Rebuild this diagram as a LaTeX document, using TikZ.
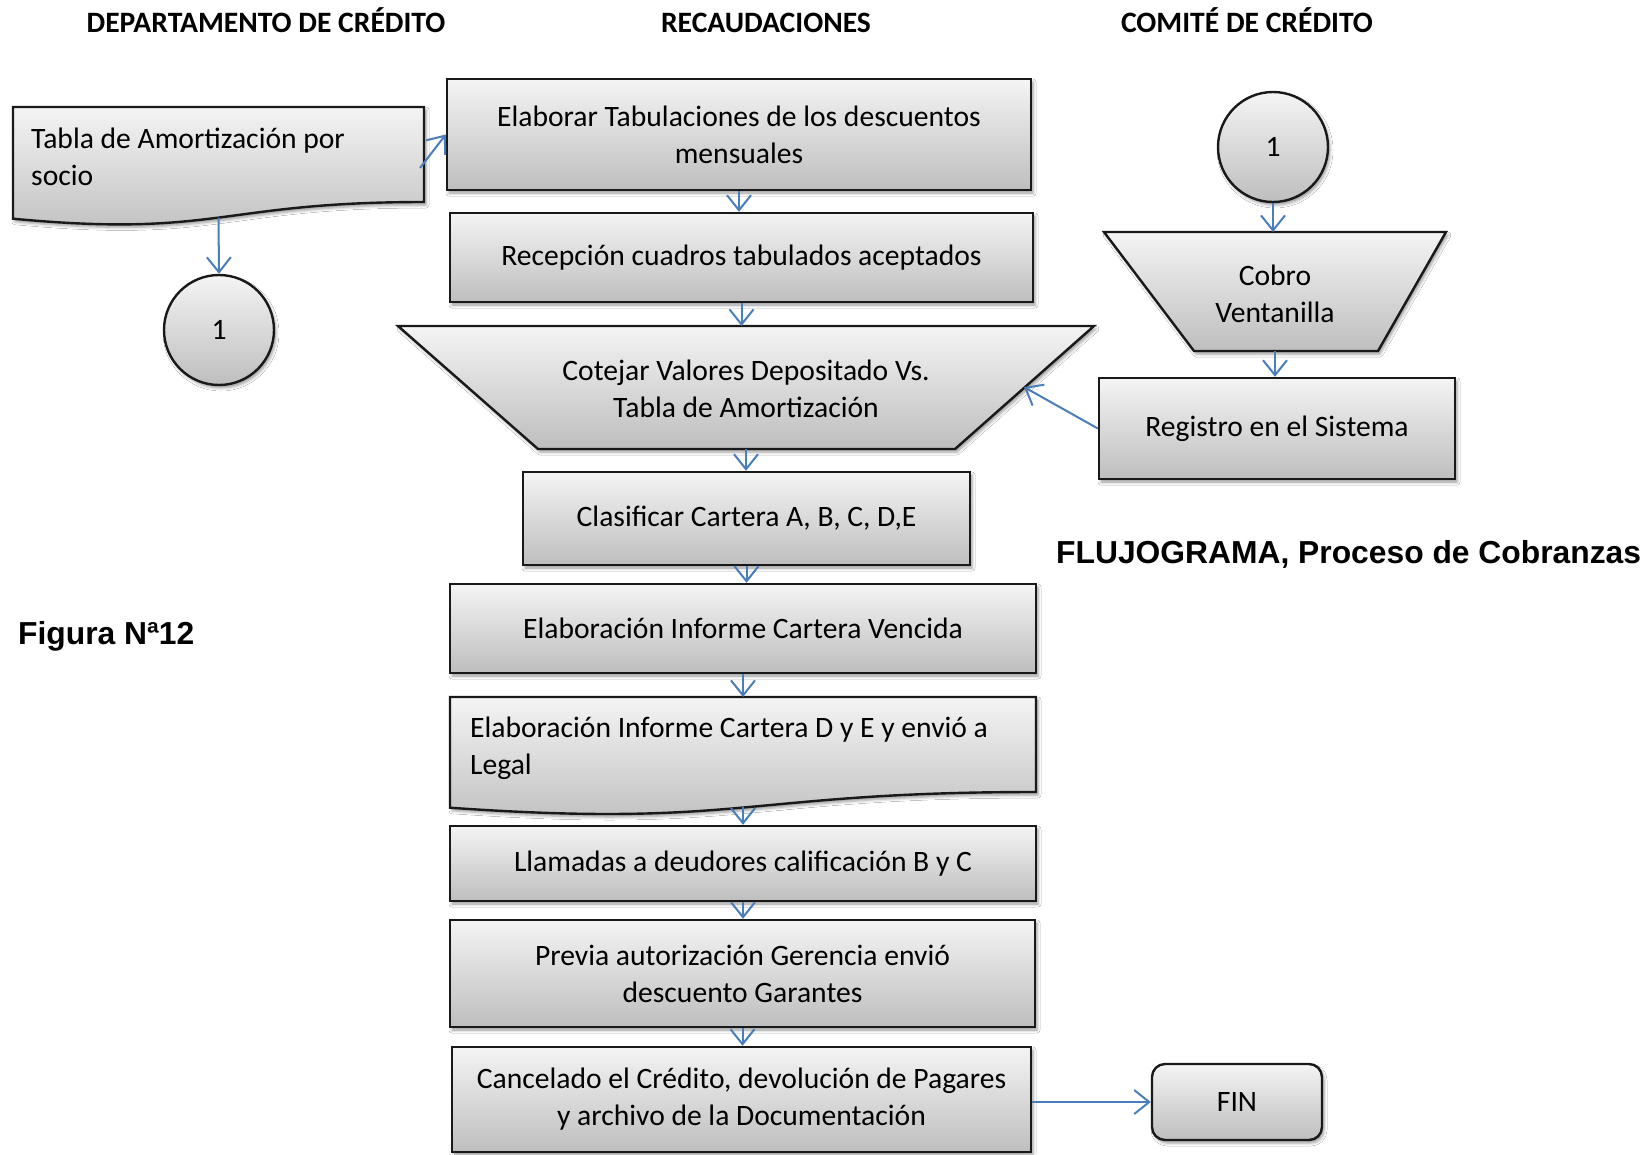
\documentclass[tikz,border=0pt]{standalone}
\usepackage{fontspec}
\setmainfont{Carlito}
\newfontfamily\arialfont{Liberation Sans}
\usetikzlibrary{arrows.meta,shadows.blur}

\definecolor{gtop}{RGB}{244,244,244}
\definecolor{gbot}{RGB}{190,190,190}
\definecolor{edgeblack}{RGB}{25,25,25}
\definecolor{flowblue}{RGB}{74,126,187}

\newcommand\bodyfont{\fontsize{29.6}{37}\selectfont}
\newcommand\headfont{\bfseries\fontsize{29.6}{33}\selectfont}
\newcommand\titlefont{\arialfont\bfseries\fontsize{31.8}{36}\selectfont}

\tikzset{
  shapebase/.style={draw=edgeblack, line width=2.4pt, top color=gtop, bottom color=gbot,
    blur shadow={shadow xshift=2pt, shadow yshift=-3pt, shadow blur radius=3pt, shadow opacity=40}},
  stepbox/.style={shapebase, rectangle, inner sep=0pt, align=center, font=\bodyfont},
  txt/.style={inner sep=0pt, align=center, font=\bodyfont},
  link/.style={draw=flowblue, line width=2pt, -{Straight Barb[length=15pt,width=24pt]}},
  headtxt/.style={inner sep=0pt, anchor=base, font=\headfont},
}

\begin{document}
\begin{tikzpicture}[x=1pt, y=-1pt]
\useasboundingbox[fill=white] (0,0) rectangle (1649,1154);

% column headings, sharing one baseline
\node[headtxt] (hdep) at (266,32) {DEPARTAMENTO DE CRÉDITO};
\node[headtxt] (hrec) at (766,32) {RECAUDACIONES};
\node[headtxt] (hcom) at (1247,32) {COMITÉ DE CRÉDITO};

% document shape: amortisation table
\path[shapebase] (13,107) -- (424,107) -- (424,202)
  .. controls (218.5,202) and (218.5,238) .. (13,218.7) -- cycle;
\node[txt, anchor=west, align=left] (doc1) at (31,157) {Tabla de Amortización por\\socio};
\coordinate (doc1r) at (420,168);
\coordinate (doc1b) at (218.5,217.6);

% connector 1 (left)
\node[shapebase, circle, minimum size=110pt, inner sep=0pt, font=\bodyfont] (c1) at (219,330) {1};

% collections column
\node[stepbox, minimum width=584pt, minimum height=111pt] (elab) at (739,134.5)
  {Elaborar Tabulaciones de los descuentos\\mensuales};
\node[stepbox, minimum width=583pt, minimum height=89pt] (recep) at (741.5,257.5)
  {\raisebox{-2pt}{Recepción cuadros tabulados aceptados}};

\path[shapebase] (398,326) -- (1094,326) -- (955,449) -- (538,449) -- cycle;
\node[txt] (cot) at (746,389) {Cotejar Valores Depositado Vs.\\Tabla de Amortización};
\coordinate (cotT) at (743,326);
\coordinate (cotB) at (746,449);
\coordinate (cotR) at (1024,387);

\node[stepbox, minimum width=447pt, minimum height=93pt] (clas) at (746.5,518.5)
  {\raisebox{-2pt}{Clasificar Cartera A, B, C, D,E}};
\node[stepbox, minimum width=586pt, minimum height=89pt] (venc) at (743,628.5)
  {Elaboración Informe Cartera Vencida};

\path[shapebase] (450,697) -- (1036,697) -- (1036,792)
  .. controls (743,792) and (743,828.2) .. (450,807.7) -- cycle;
\node[txt, anchor=west, align=left] (dye) at (470,748) {Elaboración Informe Cartera D y E y envió a\\Legal};
\coordinate (dyeT) at (743,697);
\coordinate (dyeB) at (743,807);

\node[stepbox, minimum width=586pt, minimum height=75pt] (llam) at (743,863.5)
  {Llamadas a deudores calificación B y C};
\node[stepbox, minimum width=585pt, minimum height=107pt] (prev) at (742.5,973.5)
  {Previa autorización Gerencia envió\\descuento Garantes};
\node[stepbox, minimum width=579pt, minimum height=105pt] (canc) at (741.5,1099.5)
  {Cancelado el Crédito, devolución de Pagares\\y archivo de la Documentación};
\node[stepbox, rounded corners=13pt, minimum width=170pt, minimum height=76pt] (fin) at (1237,1102) {FIN};

% committee column
\node[shapebase, circle, minimum size=110pt, inner sep=0pt, font=\bodyfont] (c2) at (1273,147) {1};
\path[shapebase] (1104,232) -- (1446,232) -- (1378,351) -- (1194,351) -- cycle;
\node[txt] (cobro) at (1275,294) {Cobro\\Ventanilla};
\coordinate (cobT) at (1274,232);
\coordinate (cobB) at (1275,351);
\node[stepbox, minimum width=356pt, minimum height=101pt] (reg) at (1277,428.5)
  {\raisebox{-2pt}{Registro en el Sistema}};

% captions
\node[anchor=west, inner sep=0pt, font=\titlefont] (title) at (1056,554) {FLUJOGRAMA, Proceso de Cobranzas};
\node[anchor=west, inner sep=0pt, font=\titlefont] (fig) at (18,636) {Figura Nª12};

% connectors
\draw[link] (doc1r) -- (elab.west);
\draw[link] (doc1b) -- (c1.north);
\draw[link] (elab.south) -- (elab.south |- recep.north);
\draw[link] (recep.south) -- (recep.south |- cotT);
\draw[link] (cotB) -- (cotB |- clas.north);
\draw[link] (clas.south) -- (clas.south |- venc.north);
\draw[link] (venc.south) -- (venc.south |- dyeT);
\draw[link] (dyeB) -- (dyeB |- llam.north);
\draw[link] (llam.south) -- (llam.south |- prev.north);
\draw[link] (prev.south) -- (prev.south |- canc.north);
\draw[link] (canc.east |- fin.west) -- (fin.west);
\draw[link] (c2.south) -- (c2.south |- cobT);
\draw[link] (cobB) -- (cobB |- reg.north);
\draw[link] (reg.west) -- (cotR);
\end{tikzpicture}
\end{document}
